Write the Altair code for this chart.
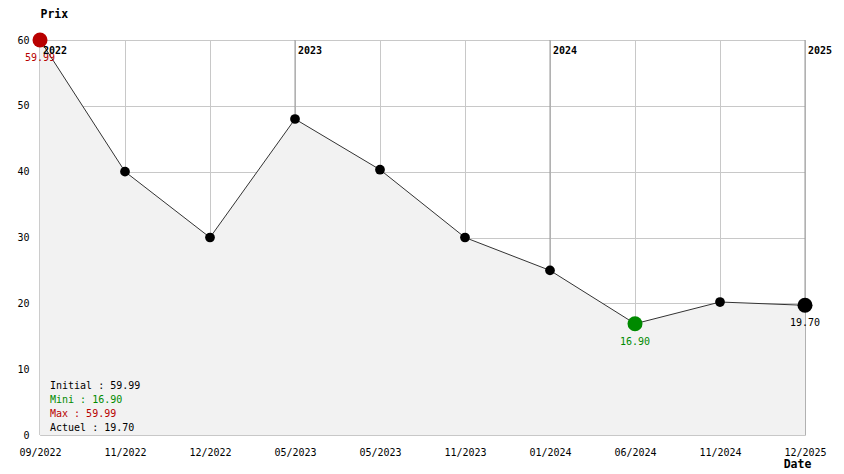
import altair as alt
import pandas as pd

# ---- data ----
date_labels = ["09/2022", "11/2022", "12/2022", "05/2023", "05/2023",
               "11/2023", "01/2024", "06/2024", "11/2024", "12/2025"]
prices = [59.99, 40.0, 30.0, 48.0, 40.3, 30.0, 25.0, 16.9, 20.2, 19.7]
year_labels = ["2022", "2023", "2024", "2025"]
year_index = [0, 3, 6, 9]
y_ticks = [0, 10, 20, 30, 40, 50, 60]

RED = "#b80000"
GREEN = "#008a00"
FONT = "DejaVu Sans Mono"

df = pd.DataFrame({"i": list(range(len(prices))), "prix": prices, "date": date_labels})
years_df = pd.DataFrame({"i": year_index, "year": year_labels, "top": [60] * len(year_index)})

i_max = prices.index(max(prices))
i_min = prices.index(min(prices))
i_last = len(prices) - 1
special = pd.DataFrame({
    "i": [i_max, i_min, i_last],
    "prix": [prices[i_max], prices[i_min], prices[i_last]],
    "col": [RED, GREEN, "#000000"],
})
special["txt"] = special["prix"].map(lambda v: f"{v:.2f}")

label_expr = "[" + ",".join(f"'{d}'" for d in date_labels) + "][datum.value]"

x_scale = alt.Scale(domain=[0, len(prices) - 1], nice=False, zero=False)
y_scale = alt.Scale(domain=[0, 60], nice=False)

x_enc = alt.X("i:Q", scale=x_scale, axis=alt.Axis(
    values=list(range(len(prices))), labelExpr=label_expr, grid=True,
    gridColor="#c8c8c8", domain=False, ticks=False, tickSize=0,
    labelPadding=12, labelFontSize=10, labelFont=FONT, labelColor="#000",
    title="Date", titleFont=FONT, titleFontSize=11.5, titleFontWeight="bold",
    titleX=757, titleY=29, titleAlign="center", titleBaseline="middle",
    labelFlush=False, labelOverlap=False))
y_enc = alt.Y("prix:Q", scale=y_scale, axis=alt.Axis(
    values=y_ticks, grid=True, gridColor="#c8c8c8", domain=False, ticks=False,
    tickSize=0, labelPadding=11, labelFontSize=10, labelFont=FONT, labelColor="#000",
    title="Prix", titleFont=FONT, titleFontSize=11.5, titleFontWeight="bold",
    titleAngle=0, titleX=0, titleY=-26, titleAlign="left", titleBaseline="middle"))

base = alt.Chart(df)

year_rules = alt.Chart(years_df).mark_rule(color="#999999", strokeWidth=1).encode(
    x=alt.X("i:Q", scale=x_scale))

area = base.mark_area(color="#f2f2f2", opacity=1).encode(x=x_enc, y=y_enc)
line = base.mark_line(color="#333333", strokeWidth=1).encode(x="i:Q", y="prix:Q")
points = base.mark_circle(color="#000000", size=95, opacity=1).encode(x="i:Q", y="prix:Q")

big_points = alt.Chart(special).mark_circle(size=225, opacity=1).encode(
    x="i:Q", y="prix:Q", color=alt.Color("col:N", scale=None))
big_labels = alt.Chart(special).mark_text(font=FONT, fontSize=10, dy=18, baseline="middle").encode(
    x="i:Q", y="prix:Q", text="txt:N", color=alt.Color("col:N", scale=None))

year_text = alt.Chart(years_df).mark_text(
    font=FONT, fontSize=10, fontWeight="bold", align="left", baseline="middle",
    dx=3, dy=11, color="#000").encode(
    x=alt.X("i:Q", scale=x_scale), y=alt.Y("top:Q", scale=y_scale), text="year:N")

legend_lines = [
    (f"Initial : {prices[0]:.2f}", "#000000"),
    (f"Mini : {min(prices):.2f}", GREEN),
    (f"Max : {max(prices):.2f}", RED),
    (f"Actuel : {prices[-1]:.2f}", "#000000"),
]
legend_layers = []
for k, (txt, col) in enumerate(legend_lines):
    legend_layers.append(
        alt.Chart(pd.DataFrame({"t": [txt]})).mark_text(
            font=FONT, fontSize=10, align="left", baseline="middle", color=col
        ).encode(x=alt.value(10), y=alt.value(346 + 14 * k), text="t:N"))

chart = alt.layer(
    year_rules, area, line, points, big_points, big_labels, year_text, *legend_layers
).properties(
    width=765, height=395,
    autosize=alt.AutoSizeParams(type="none"),
    padding={"left": 32, "top": 32, "right": 31, "bottom": 38},
    background="white",
).configure_view(strokeWidth=0).configure(font=FONT)

chart.save("out.html", embed_options={"renderer": "svg", "actions": False})
